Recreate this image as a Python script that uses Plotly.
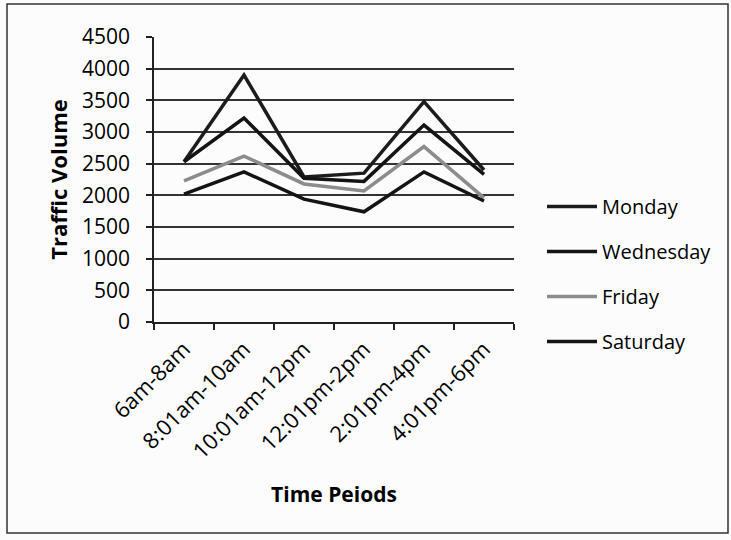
import plotly.graph_objects as go

periods = ["6am-8am", "8:01am-10am", "10:01am-12pm", "12:01pm-2pm", "2:01pm-4pm", "4:01pm-6pm"]
monday = [2530, 3900, 2290, 2350, 3480, 2400]
wednesday = [2530, 3220, 2270, 2220, 3110, 2330]
friday = [2230, 2620, 2180, 2070, 2770, 1960]
saturday = [2020, 2370, 1940, 1740, 2370, 1910]

series = [
    ("Monday", monday, "#1c1c1c"),
    ("Wednesday", wednesday, "#141414"),
    ("Friday", friday, "#8c8c8c"),
    ("Saturday", saturday, "#141414"),
]

FONT = "Open Sans"

fig = go.Figure()
for i, (name, vals, col) in enumerate(series):
    fig.add_trace(go.Scatter(
        x=periods, y=vals, name=name, mode="lines",
        line=dict(color=col, width=3.5),
        legendgroup=f"g{i}",
    ))

L, R, T, B = 154, 514, 37, 322
W, H = 731, 540
def px(x):
    return (x - L) / (R - L)
def py(y):
    return (B - y) / (B - T)

fig.update_layout(
    width=W, height=H,
    margin=dict(l=L, r=W - R, t=T, b=H - B),
    paper_bgcolor="#fcfcfc", plot_bgcolor="#fcfcfc",
    font=dict(family=FONT, size=20, color="#000000"),
    showlegend=True,
    legend=dict(x=px(542), y=py(187), xanchor="left", yanchor="top",
                font=dict(size=20, family=FONT, color="#000"), tracegroupgap=16,
                bgcolor="rgba(0,0,0,0)", itemwidth=50),
    xaxis=dict(
        type="category", tickangle=-45, tickson="boundaries",
        ticks="outside", ticklen=6, tickcolor="#222", tickwidth=1.5,
        showline=True, linecolor="#222", linewidth=1.5,
        showgrid=False, zeroline=False,
        tickfont=dict(size=22, family=FONT, color="#000"),
        ticklabelstandoff=4,
        title=dict(text="<b>Time Peiods</b>", font=dict(size=21, family=FONT, color="#000"), standoff=24),
        range=[-0.5, 5.5],
    ),
    yaxis=dict(
        range=[0, 4500], dtick=500, tick0=0,
        ticks="outside", ticklen=6, tickcolor="#222", tickwidth=1.5,
        showline=True, linecolor="#222", linewidth=1.5,
        showgrid=True, gridcolor="#333333", gridwidth=1.5,
        zeroline=False,
        tickfont=dict(size=21, family=FONT, color="#000"),
        ticklabelstandoff=12,
        title=dict(text="<b>Traffic Volume</b>", font=dict(size=22, family=FONT, color="#000"), standoff=8),
    ),
    shapes=[dict(type="rect", xref="paper", yref="paper",
                 x0=px(7), x1=px(728), y0=py(533), y1=py(4),
                 line=dict(color="#333", width=1.5), fillcolor="rgba(0,0,0,0)", layer="below")],
)

fig.write_html("out.html")
